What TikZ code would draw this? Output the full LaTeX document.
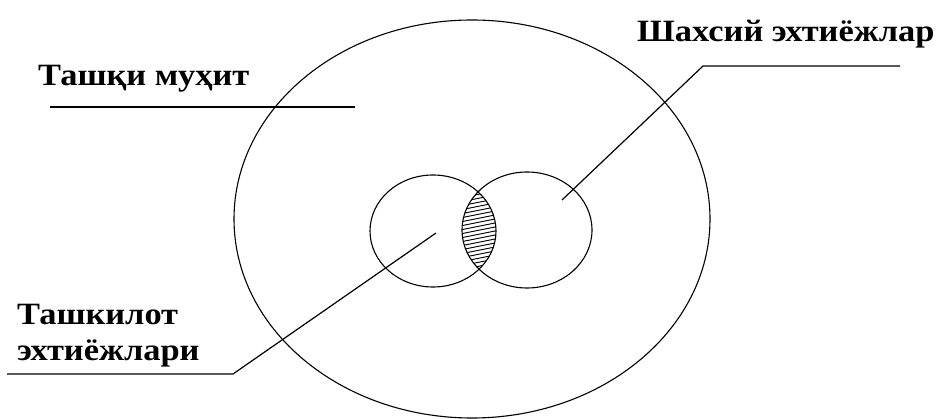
\documentclass[tikz,border=0pt]{standalone}
\usepackage{fontspec}
\setmainfont{Liberation Serif}[FakeStretch=1.11]
\usetikzlibrary{shapes.geometric}

\begin{document}
\begin{tikzpicture}[x=1pt,y=-1pt,
 label/.style={anchor=base west,inner sep=0pt,font=\fontsize{31}{36}\selectfont\bfseries},
 ring/.style={ellipse,draw=black,line width=1.1pt,inner sep=0pt},
 lead/.style={draw=black,line width=1.2pt},
 hatch/.style={draw=black,line width=0.9pt}]
\useasboundingbox (0,0) rectangle (942,419);
% outer environment and the two need circles
\node[ring,minimum width=476pt,minimum height=398pt] (env) at (472,219) {};
\node[ring,minimum width=126pt,minimum height=112pt] (org) at (433,231) {};
\node[ring,minimum width=130pt,minimum height=116pt] (pers) at (527,230) {};
% hatched overlap
\begin{scope}
 \clip (433,231) ellipse [x radius=63pt,y radius=56pt];
 \clip (527,230) ellipse [x radius=65pt,y radius=58pt];
 \foreach \k in {180,184,...,300}
  \draw[hatch] (450,\k) -- (510,\k-12);
\end{scope}
% labels
\node[label] (envtxt) at (38,86) {Ташқи муҳит};
\node[label] (perstxt) at (637,42) {Шахсий эхтиёжлар};
\node[label] (orgtxt) at (17,325) {Ташкилот};
\node[label] (orgtxtb) at (17,361) {эхтиёжлари};
% leader lines
\coordinate (envL) at (50,107);
\coordinate (envR) at (355,107);
\coordinate (persK) at (703,66);
\coordinate (persE) at (900,66);
\coordinate (persP) at (562,200);
\coordinate (orgK) at (233,374);
\coordinate (orgE) at (7,374);
\coordinate (orgP) at (436,233);
\draw[lead] (envL)--(envR);
\draw[lead] (persE)--(persK)--(persP);
\draw[lead] (orgE)--(orgK)--(orgP);
\end{tikzpicture}
\end{document}
